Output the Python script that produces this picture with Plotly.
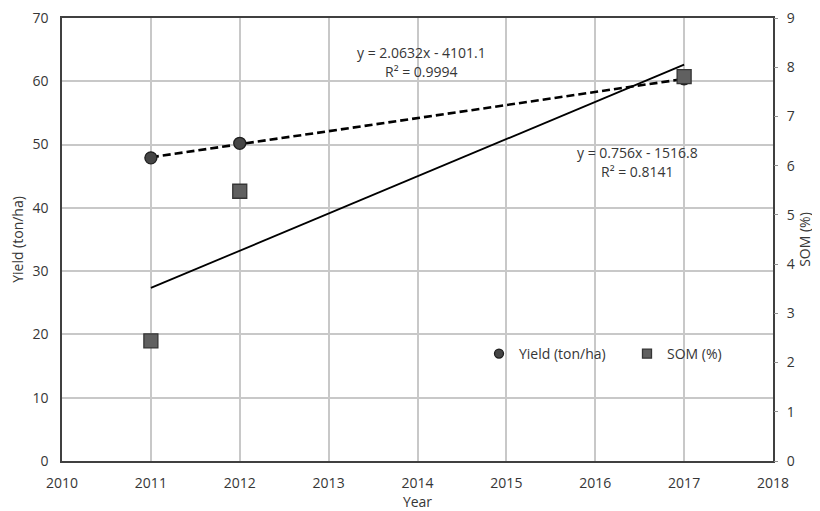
import numpy as np
import plotly.graph_objects as go

years = [2011, 2012, 2017]
yield_vals = [47.9, 50.2, 60.4]
som_vals = [2.44, 5.48, 7.81]

# trendline coefficients as printed on the chart
yield_fit = [2.0632, -4101.1]
som_fit = [0.756, -1516.8]
yield_eq = ["y = 2.0632x - 4101.1", "R² = 0.9994"]
som_eq = ["y = 0.756x - 1516.8", "R² = 0.8141"]

series_names = ["Yield (ton/ha)", "SOM (%)"]

x_ticks = list(range(2010, 2019))
yl_ticks = list(range(0, 71, 10))
yr_ticks = list(range(0, 10))

FONT = "Open Sans"
TXT = "#363636"

CIRCLE = dict(color="#454545", line=dict(color="#1e1e1e", width=1.3))
SQUARE = dict(color="#606060", line=dict(color="#353535", width=1.3))

fx = np.array([years[0], years[-1]], dtype=float)

fig = go.Figure()
fig.add_trace(go.Scatter(x=fx, y=yield_fit[0] * fx + yield_fit[1], mode="lines",
                         line=dict(color="black", width=2.6, dash="8px,4px"),
                         showlegend=False, hoverinfo="skip", yaxis="y"))
fig.add_trace(go.Scatter(x=years, y=yield_vals, mode="markers", name=series_names[0],
                         marker=dict(symbol="circle", size=12, **CIRCLE),
                         showlegend=False, yaxis="y"))
fig.add_trace(go.Scatter(x=fx, y=som_fit[0] * fx + som_fit[1], mode="lines",
                         line=dict(color="black", width=1.8),
                         showlegend=False, hoverinfo="skip", yaxis="y2"))
fig.add_trace(go.Scatter(x=years, y=som_vals, mode="markers", name=series_names[1],
                         marker=dict(symbol="square", size=14, **SQUARE),
                         showlegend=False, yaxis="y2"))
# legend entries (smaller symbols, as in the original legend)
fig.add_trace(go.Scatter(x=[None], y=[None], mode="markers", name=series_names[0],
                         marker=dict(symbol="circle", size=9, **CIRCLE)))
fig.add_trace(go.Scatter(x=[None], y=[None], mode="markers", name=series_names[1],
                         marker=dict(symbol="square", size=9, **SQUARE), yaxis="y2"))

ann_font = dict(family=FONT, size=14, color=TXT)
fig.add_annotation(x=2014.05, y=64.5, xref="x", yref="y", text=yield_eq[0],
                   showarrow=False, font=ann_font)
fig.add_annotation(x=2014.05, y=61.5, xref="x", yref="y", text=yield_eq[1],
                   showarrow=False, font=ann_font)
fig.add_annotation(x=2016.47, y=48.8, xref="x", yref="y", text=som_eq[0],
                   showarrow=False, font=ann_font)
fig.add_annotation(x=2016.47, y=45.8, xref="x", yref="y", text=som_eq[1],
                   showarrow=False, font=ann_font)

tfont = dict(family=FONT, size=14, color=TXT)
fig.update_layout(
    width=812, height=503,
    margin=dict(l=54, r=47, t=10, b=50),
    paper_bgcolor="white", plot_bgcolor="white",
    font=dict(family=FONT, size=14, color=TXT),
    xaxis=dict(range=[2010, 2018], tickvals=x_ticks, ticktext=[str(v) for v in x_ticks],
               showgrid=True, gridcolor="#c8c8c8", gridwidth=1.5,
               showline=True, linecolor="#404040", linewidth=1.5, mirror=True,
               ticks="", zeroline=False, automargin=False, ticklabelstandoff=8,
               ticklabeloverflow="allow", tickfont=tfont,
               title=dict(text="Year", font=tfont, standoff=6)),
    yaxis=dict(range=[0, 70], tickvals=yl_ticks, showgrid=True, gridcolor="#c8c8c8",
               gridwidth=1.5, showline=True, linecolor="#404040", linewidth=1.5,
               mirror=True, ticks="", zeroline=False, automargin=False,
               ticklabelstandoff=9, ticklabeloverflow="allow", tickfont=tfont,
               title=dict(text="Yield (ton/ha)", font=tfont, standoff=8)),
    yaxis2=dict(range=[0, 9], tickvals=yr_ticks, overlaying="y", side="right",
                showgrid=False, showline=False, ticks="outside", ticklen=4,
                tickcolor="#909090", zeroline=False, automargin=False,
                ticklabelstandoff=6, ticklabeloverflow="allow", tickfont=tfont,
                title=dict(text="SOM (%)", font=tfont, standoff=6)),
    legend=dict(orientation="h", x=0.5865, y=0.2415, xanchor="left", yanchor="middle",
                bgcolor="rgba(0,0,0,0)", font=tfont, itemsizing="trace",
                entrywidth=103, entrywidthmode="pixels", itemwidth=30,
                tracegroupgap=0),
)

fig.write_html("out.html")
